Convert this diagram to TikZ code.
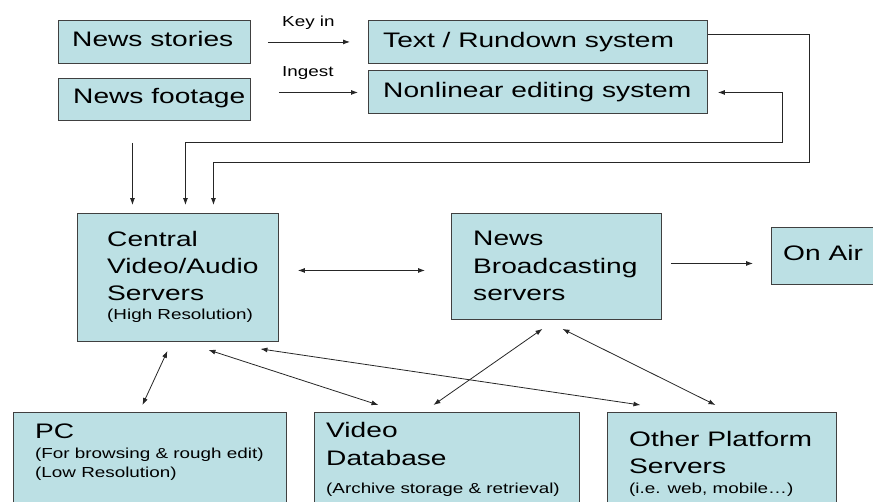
\documentclass[tikz,border=0pt]{standalone}
\usepackage{fontspec}
\setmainfont{Liberation Sans}
\usepackage{graphicx}
\usetikzlibrary{arrows.meta,calc}
\definecolor{boxfill}{RGB}{188,224,228}
\newcommand\txtL[1]{\fontsize{21}{25}\selectfont\scalebox{1.34}[1]{#1}}
\newcommand\txtS[1]{\fontsize{14.5}{18}\selectfont\scalebox{1.3}[1]{#1}}
\begin{document}
\begin{tikzpicture}[x=1pt,y=-1pt,
  box/.style={draw=black!75,line width=0.9pt,fill=boxfill,inner sep=0pt,anchor=north west},
  lbl/.style={anchor=base west,inner sep=0pt},
  arr/.style={-{Latex[length=7pt,width=5pt]},line width=0.8pt,draw=black!85},
  arr2/.style={{Latex[length=7pt,width=5pt]}-{Latex[length=7pt,width=5pt]},line width=0.8pt,draw=black!85}]
\useasboundingbox (0,0) rectangle (873,501);
\begin{scope}
\clip (0,0) rectangle (873,501);
\node[box,minimum width=192pt,minimum height=43pt] (ns) at (58,20) {};
\node[box,minimum width=192pt,minimum height=42pt] (nf) at (58,78) {};
\node[box,minimum width=339pt,minimum height=43pt] (tr) at (368,20) {};
\node[box,minimum width=339pt,minimum height=43pt] (nle) at (368,70) {};
\node[box,minimum width=201pt,minimum height=128pt] (cva) at (77,213) {};
\node[box,minimum width=210pt,minimum height=106pt] (nb) at (451,213) {};
\node[box,minimum width=120pt,minimum height=57pt] (oa) at (771,227) {};
\node[box,minimum width=273pt,minimum height=100pt] (pc) at (13,412) {};
\node[box,minimum width=265pt,minimum height=100pt] (vdb) at (314,412) {};
\node[box,minimum width=229pt,minimum height=100pt] (op) at (607,412) {};
\end{scope}

% texts
\node[lbl] (t-ns) at (72,46.7) {\txtL{News stories}};
\node[lbl] (t-nf) at (73,103) {\txtL{News footage}};
\node[lbl] (t-tr) at (383,47) {\txtL{Text / Rundown system}};
\node[lbl] (t-nle) at (383,97) {\txtL{Nonlinear editing system}};
\node[lbl] (t-cva1) at (107,246) {\txtL{Central}};
\node[lbl] (t-cva2) at (107,273) {\txtL{Video/Audio}};
\node[lbl] (t-cva3) at (107,300) {\txtL{Servers}};
\node[lbl] (t-cva4) at (107,319) {\txtS{(High Resolution)}};
\node[lbl] (t-nb1) at (473,245) {\txtL{News}};
\node[lbl] (t-nb2) at (473,273) {\txtL{Broadcasting}};
\node[lbl] (t-nb3) at (473,300) {\txtL{servers}};
\node[lbl] (t-oa) at (783,260) {\txtL{On Air}};
\node[lbl] (t-pc1) at (35,438) {\txtL{PC}};
\node[lbl] (t-pc2) at (35,458) {\txtS{(For browsing \& rough edit)}};
\node[lbl] (t-pc3) at (35,477) {\txtS{(Low Resolution)}};
\node[lbl] (t-vdb1) at (326,437) {\txtL{Video}};
\node[lbl] (t-vdb2) at (326,465) {\txtL{Database}};
\node[lbl] (t-vdb3) at (326,493) {\txtS{(Archive storage \& retrieval)}};
\node[lbl] (t-op1) at (629,446) {\txtL{Other Platform}};
\node[lbl] (t-op2) at (629,473) {\txtL{Servers}};
\node[lbl] (t-op3) at (629,493) {\txtS{(i.e. web, mobile…)}};
\node[lbl] (keyin) at (282,26) {\txtS{Key in}};
\node[lbl] (ingest) at (282,76) {\txtS{Ingest}};

% connectors
\draw[arr] ($(ns.east)+(17,0)$) -- ($(tr.west)+(-18,0)$);
\draw[arr] ($(nf.east)+(28,-7)$) -- ($(nle.west)+(-10,0.5)$);
\draw[arr] ($(nf.south)+(-22,22)$) -- ($(cva.north)+(-45.5,-8)$);
\draw[arr] ($(tr.east)+(0,-7.5)$) -- ++(101,0) -- ++(0,128) -| ($(cva.north)+(35.5,-8)$);
\draw[arr2] ($(nle.east)+(10,0.5)$) -- ++(64,0) -- ++(0,50) -| ($(cva.north)+(7.5,-8)$);
\draw[arr2] ($(cva.east)+(19,-7)$) -- ($(nb.west)+(-26,4)$);
\draw[arr] ($(nb.east)+(9,-3)$) -- ($(oa.west)+(-18,7.5)$);
\draw[arr2] ($(cva.south)+(-10.5,9)$) -- ($(pc.north)+(-7.5,-7)$);
\draw[arr2] ($(cva.south)+(30.5,8)$) -- ($(vdb.north)+(-68.5,-7)$);
\draw[arr2] ($(cva.south)+(82.5,7)$) -- ($(op.north)+(-81.5,-7)$);
\draw[arr2] ($(nb.south)+(-14,9)$) -- ($(vdb.north)+(-13.5,-7)$);
\draw[arr2] ($(nb.south)+(6,9)$) -- ($(op.north)+(-6.5,-7)$);
\end{tikzpicture}
\end{document}
